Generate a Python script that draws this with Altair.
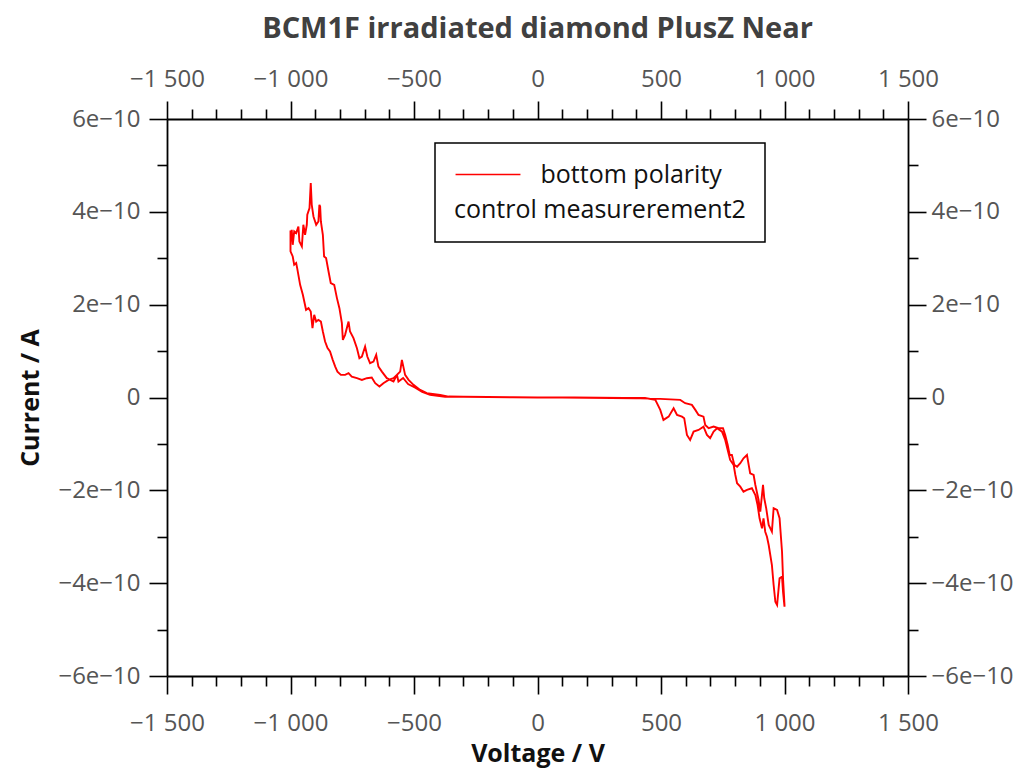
import altair as alt
import pandas as pd

# ---- data (voltage in V, current in units of 1e-10 A) ----
v_flat_start = [0, -100, -200, -300, -360]
i_flat_start = [0.0, 0.005, 0.01, 0.015, 0.02]

v_neg_out = [-394, -448, -475, -502, -522, -536, -549, -556, -569, -583,
             -610, -630, -644, -653, -664, -678, -689, -698, -711, -721,
             -731, -745, -759, -765, -779, -788, -792, -802, -812, -823,
             -837, -846, -856, -864, -869, -877, -880, -883, -887, -896,
             -907, -914, -918, -923, -932, -934, -941, -948, -954, -964,
             -968, -977, -985, -991, -995, -999, -1000, -1000]
i_neg_out = [0.056, 0.093, 0.164, 0.272, 0.379, 0.487, 0.811, 0.558, 0.487, 0.343,
             0.416, 0.558, 0.666, 0.918, 0.774, 0.740, 0.882, 1.097, 0.882, 0.847,
             1.063, 1.279, 1.421, 1.636, 1.350, 1.242, 1.602, 1.925, 2.141, 2.428,
             2.464, 2.714, 3.003, 3.038, 3.506, 3.792, 4.116, 4.152, 3.792, 3.721,
             3.900, 4.152, 4.620, 4.081, 3.937, 3.721, 3.506, 3.721, 3.253, 3.361,
             3.684, 3.542, 3.577, 3.290, 3.613, 3.361, 3.6, 3.15]

v_neg_back = [-991, -985, -977, -973, -961, -950, -937, -927, -918, -911,
              -904, -896, -887, -877, -869, -860, -850, -840, -829, -819,
              -810, -796, -779, -765, -752, -731, -711, -691, -671, -657,
              -640, -624, -603, -583, -569, -563, -544, -524, -495, -467,
              -435, -374]
i_neg_back = [3.038, 2.859, 2.896, 2.788, 2.428, 2.212, 1.889, 1.925, 1.852, 1.494,
              1.781, 1.636, 1.673, 1.636, 1.421, 1.205, 1.063, 0.990, 0.811, 0.666,
              0.558, 0.487, 0.487, 0.524, 0.451, 0.416, 0.379, 0.416, 0.429, 0.308,
              0.235, 0.308, 0.379, 0.416, 0.487, 0.343, 0.42, 0.29, 0.21, 0.12,
              0.056, 0.013]

v_flat_mid = [-300, -200, -100, 0, 100, 200, 300, 400]
i_flat_mid = [0.015, 0.01, 0.005, 0.0, 0.0, -0.005, -0.01, -0.015]

v_pos_out = [416, 497, 578, 598, 625, 639, 652, 672, 679, 693,
             713, 733, 751, 760, 770, 778, 787, 797, 808, 821,
             834, 848, 855, 861, 875, 882, 895, 902, 913, 918,
             926, 936, 949, 956, 970, 980, 990, 994, 1000]
i_pos_out = [-0.015, -0.030, -0.052, -0.123, -0.160, -0.267, -0.375, -0.412, -0.591, -0.662,
             -0.627, -0.662, -0.662, -0.806, -1.022, -1.238, -1.238, -1.453, -1.490, -1.416,
             -1.309, -1.238, -1.453, -1.632, -1.669, -1.884, -2.208, -2.460, -1.884, -2.171,
             -2.387, -2.747, -2.891, -2.387, -2.423, -2.602, -3.322, -3.896, -4.471]

v_pos_back = [1000, 994, 990, 980, 970, 963, 956, 949, 936, 929,
              922, 915, 909, 899, 891, 882, 868, 848, 834, 821,
              808, 801, 794, 780, 770, 760, 747, 727, 713, 699,
              686, 672, 652, 632, 618, 605, 594, 585, 565, 551,
              531, 510, 497, 477, 435]
i_pos_back = [-4.508, -4.185, -3.861, -3.896, -4.471, -4.400, -4.040, -3.609, -3.178, -2.999,
              -2.891, -2.602, -2.818, -2.602, -2.316, -2.100, -1.955, -1.992, -2.029, -1.921,
              -1.848, -1.669, -1.453, -1.345, -1.130, -0.914, -0.735, -0.662, -0.735, -0.877,
              -0.806, -0.627, -0.699, -0.735, -0.914, -0.806, -0.446, -0.412, -0.375, -0.231,
              -0.412, -0.483, -0.267, -0.052, -0.01]

v_flat_end = [350, 250, 150, 50]
i_flat_end = [-0.01, -0.005, 0.0, 0.0]

x_ticks = list(range(-1500, 1501, 100))
y_ticks = [-6e-10, -5e-10, -4e-10, -3e-10, -2e-10, -1e-10, 0.0,
           1e-10, 2e-10, 3e-10, 4e-10, 5e-10, 6e-10]

series_name = "bottom polarity"
legend_title = "control measurerement2"
chart_title = "BCM1F irradiated diamond PlusZ Near"

voltage = v_flat_start + v_neg_out + v_neg_back + v_flat_mid + v_pos_out + v_pos_back + v_flat_end
current_e10 = i_flat_start + i_neg_out + i_neg_back + i_flat_mid + i_pos_out + i_pos_back + i_flat_end

df = pd.DataFrame({"voltage": voltage, "current": current_e10})
df["current"] = df["current"] * 1e-10
df["idx"] = range(len(df))
df["series"] = series_name

FONT = "Open Sans"
LABEL_GREY = "#555555"

x_label_expr = ("datum.value % 500 !== 0 ? '' : (datum.value < 0 ? '\u2212' : '') + "
                "replace(format(abs(datum.value), ','), ',', ' ')")
y_label_expr = ("abs(round(datum.value*1e10)) % 2 !== 0 ? '' : "
                "(round(datum.value*1e10) === 0 ? '0' : "
                "(datum.value < 0 ? '\u2212' : '') + abs(round(datum.value*1e10)) + 'e\u221210')")

x_tick_size = {"condition": {"test": "datum.value % 500 === 0", "value": 18}, "value": 10}
y_tick_size = {"condition": {"test": "abs(round(datum.value*1e10)) % 2 === 0", "value": 18}, "value": 10}


def make_axis(orient, values, label_expr, tick_size, title=None, pad=9, title_pad=4):
    kw = dict(
        orient=orient, values=values, labelExpr=label_expr, tickSize=tick_size,
        labelFont=FONT, labelFontSize=24, labelColor=LABEL_GREY,
        labelPadding=pad, labelOverlap=False, labelFlush=False, labelBound=False,
        domainColor="#000000", domainWidth=1.8, tickColor="#000000", tickWidth=1.6,
        grid=False,
    )
    if title is not None:
        kw.update(title=title, titleFont=FONT, titleFontSize=25, titleFontWeight="bold",
                  titleColor="#111111", titlePadding=title_pad)
    else:
        kw.update(title=None)
    return alt.Axis(**kw)


xs = alt.Scale(domain=[-1500, 1500], nice=False, zero=False)
ys = alt.Scale(domain=[-6e-10, 6e-10], nice=False, zero=False)

base = alt.Chart(df)

main = base.mark_line(strokeWidth=1.9).encode(
    x=alt.X("voltage:Q", scale=xs,
            axis=make_axis("bottom", x_ticks, x_label_expr, x_tick_size, "Voltage / V",
                           pad=17, title_pad=6)),
    y=alt.Y("current:Q", scale=ys,
            axis=make_axis("left", y_ticks, y_label_expr, y_tick_size, "Current / A",
                           pad=9, title_pad=14)),
    order="idx:Q",
    color=alt.Color("series:N", scale=alt.Scale(range=["#ff0000"]),
                    legend=alt.Legend(
                        orient="none", legendX=268, legendY=24,
                        title=legend_title, titleOrient="bottom", titleAnchor="start",
                        titleAlign="left", titleFont=FONT, titleFontSize=25,
                        titleFontWeight="normal", titleColor="#111111", titlePadding=10,
                        titleLimit=1000, labelLimit=1000,
                        labelFont=FONT, labelFontSize=25, labelColor="#111111",
                        labelOffset=40, symbolType="M-2.95,0H2.95", symbolSize=484,
                        symbolOffset=21.5,
                        symbolStrokeWidth=1.6, padding=19,
                        strokeColor="#000000", fillColor="#ffffff",
                    )),
)

overlay = base.mark_line(opacity=0).encode(
    x=alt.X("voltage:Q", scale=xs,
            axis=make_axis("top", x_ticks, x_label_expr, x_tick_size, None, pad=10)),
    y=alt.Y("current:Q", scale=ys,
            axis=make_axis("right", y_ticks, y_label_expr, y_tick_size, None, pad=5)),
    order="idx:Q",
)

chart = alt.layer(main, overlay).resolve_axis(
    x="independent", y="independent"
).properties(
    width=741, height=557,
    padding={"left": 159, "top": 111, "right": 108, "bottom": 92},
    autosize=alt.AutoSizeParams(type="none"),
    title=alt.TitleParams(chart_title, font=FONT, fontSize=29, fontWeight="bold",
                          color="#404040", anchor="middle", offset=23),
).configure_view(stroke=None).configure_legend(strokeWidth=1.5)

chart.save("out.html", embed_options={"renderer": "svg", "actions": False})
